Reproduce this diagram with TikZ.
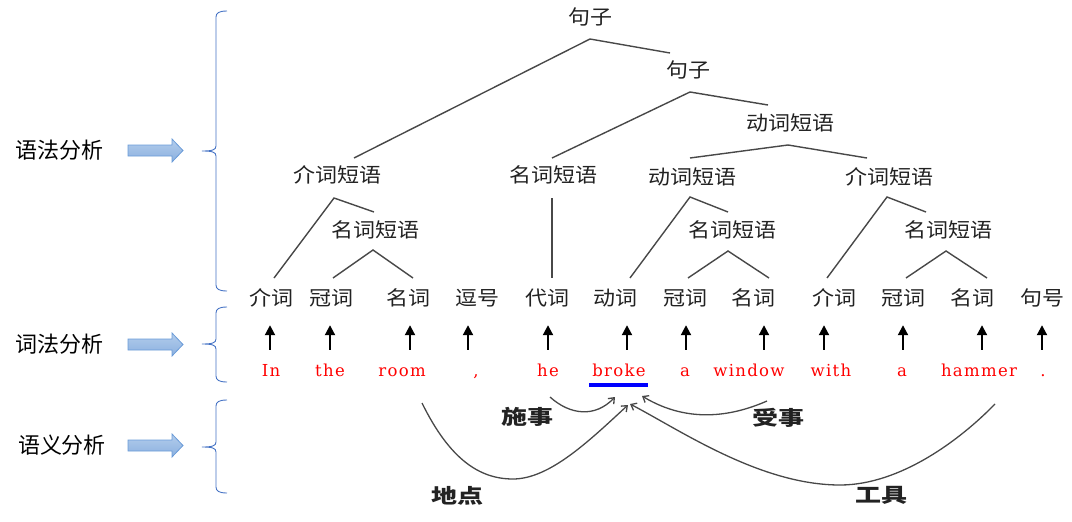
\documentclass[tikz,border=0pt]{standalone}
\usepackage{fontspec}
\usepackage{graphicx}
\usetikzlibrary{calc,arrows.meta}
\newfontfamily\cjk{Noto Sans CJK SC}
\newfontfamily\redf[LetterSpace=8]{DejaVu Serif}
\definecolor{treeline}{HTML}{484848}
\definecolor{txtc}{HTML}{222222}
\definecolor{bracec}{HTML}{4472C4}
\definecolor{arrtop}{HTML}{B3CDEC}
\definecolor{arrbot}{HTML}{8BB0DF}
\definecolor{arrdraw}{HTML}{6A9BD8}
\newcommand\sx[1]{\scalebox{1.1}[1]{#1}}
\newcommand\semx[1]{\scalebox{1.3}[1]{#1}}
\begin{document}
\begin{tikzpicture}[x=1pt,y=-1pt,
  tn/.style={inner sep=0pt, font=\cjk\fontsize{20}{20}\selectfont, text=txtc},
  cat/.style={inner sep=0pt, minimum height=54pt, font=\cjk\fontsize{20}{20}\selectfont, text=txtc},
  rw/.style={inner sep=0pt, minimum height=44pt, text height=12pt, text depth=4pt, font=\redf\fontsize{16.5}{16.5}\selectfont, text=red},
  side/.style={inner sep=0pt, font=\cjk\fontsize{22}{22}\selectfont, text=black},
  sem/.style={inner sep=0pt, font=\cjk\bfseries\fontsize{20}{20}\selectfont, text=txtc},
  tree/.style={draw=treeline, line width=1.4pt},
  uparr/.style={draw=black, line width=2pt, -{Triangle[length=10pt,width=10pt]}},
  semarr/.style={draw=treeline, line width=1.3pt, -{Straight Barb[length=5pt,width=8pt]}},
  brc/.style={draw=bracec, line width=0.9pt},
  blockarr/.style={draw=arrdraw, line width=0.8pt, top color=arrtop, bottom color=arrbot}
]
\useasboundingbox (0,0) rectangle (1072,522);

% ---- left side labels
\node[side] (l1) at (60,150) {语法分析};
\node[side] (l2) at (60,344) {词法分析};
\node[side] (l3) at (62,445) {语义分析};

% ---- block arrows
\foreach \yy in {150.5,344.5,445.5}{
  \draw[blockarr] (128,\yy-5.5) -- (172,\yy-5.5) -- (172,\yy-11.5) -- (183,\yy)
     -- (172,\yy+11.5) -- (172,\yy+5.5) -- (128,\yy+5.5) -- cycle;
}

% ---- braces
\foreach \T/\M/\B in {11/151/291, 307/344/382, 400/447/493}{
  \draw[brc] (227,\T) .. controls (219,\T) and (216,\T+2) .. (216,\T+6)
     -- (216,\M-5) .. controls (216,\M-1) and (212,\M) .. (202,\M)
     .. controls (212,\M) and (216,\M+1) .. (216,\M+5)
     -- (216,\B-6) .. controls (216,\B-2) and (219,\B) .. (227,\B);
}

% ---- tree nodes
\node[tn] (s1) at (590,17) {\sx{句子}};
\node[tn] (s2) at (688,70) {\sx{句子}};
\node[tn] (vp1) at (790,123) {\sx{动词短语}};
\node[tn] (pp1) at (337,175) {\sx{介词短语}};
\node[tn] (np1) at (553,175) {\sx{名词短语}};
\node[tn] (vp2) at (692,177) {\sx{动词短语}};
\node[tn] (pp2) at (889,177) {\sx{介词短语}};
\node[tn] (np2) at (375,230) {\sx{名词短语}};
\node[tn] (np3) at (732,230) {\sx{名词短语}};
\node[tn] (np4) at (948,230) {\sx{名词短语}};

% ---- word categories
\node[cat] (c1) at (271,298) {\sx{介词}};
\node[cat] (c2) at (331,298) {\sx{冠词}};
\node[cat] (c3) at (408,298) {\sx{名词}};
\node[cat] (c4) at (477,298) {\sx{逗号}};
\node[cat] (c5) at (547,298) {\sx{代词}};
\node[cat] (c6) at (615,298) {\sx{动词}};
\node[cat] (c7) at (685,298) {\sx{冠词}};
\node[cat] (c8) at (753,298) {\sx{名词}};
\node[cat] (c9) at (834,298) {\sx{介词}};
\node[cat] (c10) at (903,298) {\sx{冠词}};
\node[cat] (c11) at (972,298) {\sx{名词}};
\node[cat] (c12) at (1042,298) {\sx{句号}};

% ---- red words
\node[rw] (r1) at (271,372) {In};
\node[rw] (r2) at (330,372) {the};
\node[rw] (r3) at (402,372) {room};
\node[rw] (r4) at (476,372) {,};
\node[rw] (r5) at (548,372) {he};
\node[rw] (r6) at (619,372) {broke};
\node[rw] (r7) at (685,372) {a};
\node[rw] (r8) at (749,372) {window};
\node[rw] (r9) at (831,372) {with};
\node[rw] (r10) at (902,372) {a};
\node[rw] (r11) at (979,372) {hammer};
\node[rw] (r12) at (1043,372) {.};

% ---- up arrows
\foreach \i/\d in {1/-1,2/0,3/8,4/-8,5/0,6/8,7/1,8/15,9/-7,10/1,11/3,12/-1}{
  \draw[uparr] ([xshift=\d pt]r\i.north) -- ([xshift=\d pt]r\i.north |- c\i.south);
}

% ---- underline of broke
\draw[draw=blue, line width=4pt] ($(r6.center)+(-30,13)$) -- ($(r6.center)+(29,13)$);

% ---- tree lines
\draw[tree] ($(pp1)+(17,-17)$) -- ($(s1)+(0,22)$) -- ($(s2)+(-18,-17)$);
\draw[tree] ($(np1)+(-1,-17)$) -- ($(s2)+(2,22)$) -- ($(vp1)+(-22,-18)$);
\draw[tree] ($(vp2)+(-2,-19)$) -- ($(vp1)+(-2,22)$) -- ($(pp2)+(-22,-19)$);
\draw[tree] ($(c1)+(3,-20)$) -- ($(pp1)+(-3,23)$) -- ($(np2)+(-1,-18)$);
\draw[tree] ($(c2)+(2,-20)$) -- ($(np2)+(-2,20)$) -- ($(c3)+(5,-20)$);
\draw[tree] ($(np1)+(-1,23)$) -- ($(c5)+(5,-20)$);
\draw[tree] ($(c6)+(15,-20)$) -- ($(vp2)+(-2,20)$) -- ($(np3)+(-4,-18)$);
\draw[tree] ($(c7)+(3,-20)$) -- ($(np3)+(-4,21)$) -- ($(c8)+(16,-20)$);
\draw[tree] ($(c9)+(-7,-20)$) -- ($(pp2)+(-2,20)$) -- ($(np4)+(-22,-18)$);
\draw[tree] ($(c10)+(3,-20)$) -- ($(np4)+(-2,21)$) -- ($(c11)+(15,-20)$);

% ---- semantic labels
\node[sem] (agent) at (527,417) {\semx{施事}};
\node[sem] (loc) at (457,496) {\semx{地点}};
\node[sem] (patient) at (778,418) {\semx{受事}};
\node[sem] (instr) at (881,495) {\semx{工具}};

% ---- semantic arcs
\draw[semarr] ($(r5)+(2,25)$) .. controls (570,415) and (595,418) .. ($(r6)+(-4,25)$);
\draw[semarr] ($(r3)+(20,31)$) .. controls (450,460) and (480,479) .. (513,479)
   .. controls (550,479) and (590,440) .. ($(r6)+(9,33)$);
\draw[semarr] ($(r8)+(18,29)$) .. controls (735,415) and (690,425) .. ($(r6)+(23,24)$);
\draw[semarr] ($(r11)+(16,32)$) .. controls (960,440) and (900,485) .. (840,485)
   .. controls (760,485) and (680,430) .. ($(r6)+(11,32)$);
\end{tikzpicture}
\end{document}
